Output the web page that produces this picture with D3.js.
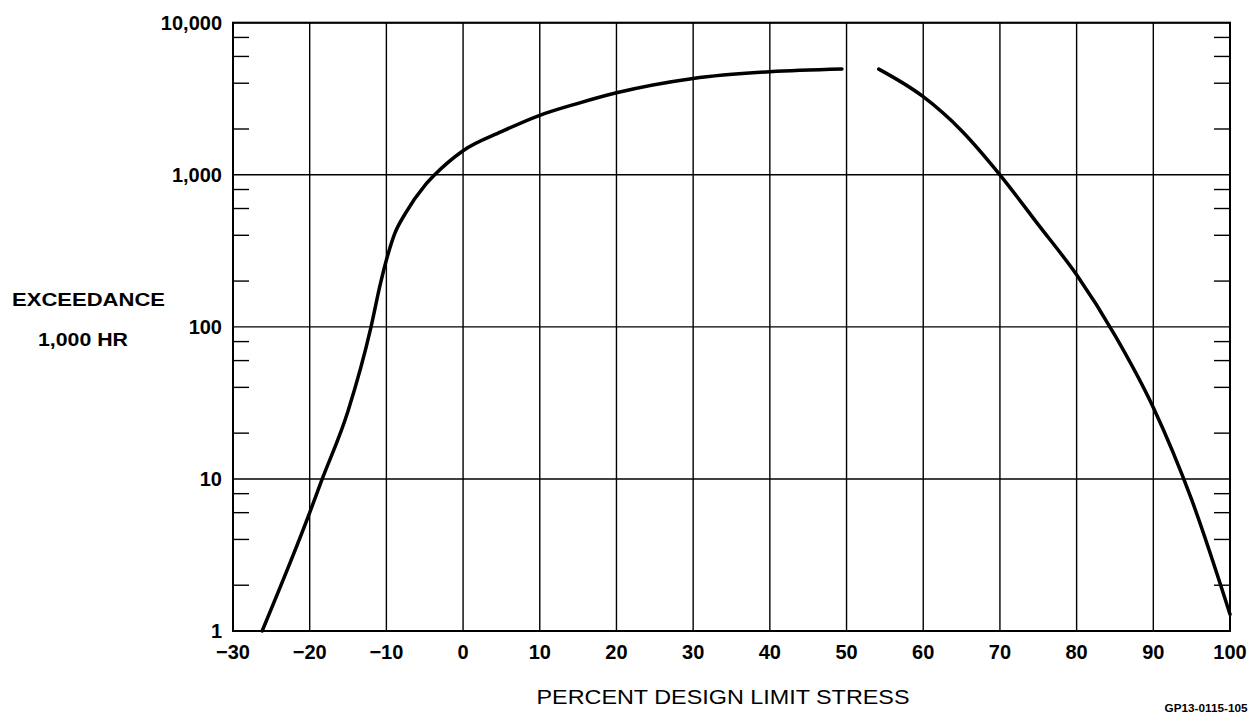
<!DOCTYPE html>
<html><head><meta charset="utf-8">
<script src="https://cdn.jsdelivr.net/npm/d3@7"></script>
<style>body{margin:0;background:#fff}svg{display:block}text{font-family:"Liberation Sans",Arial,sans-serif;fill:#000}</style>
</head><body><svg id="c" width="1252" height="713"></svg>
<script>
// Left branch of the exceedance curve
const leftX = [-26.2, -20, -18.5, -15, -12.0, -10.8, -10, -9, -7.5, -5, -3.7, 0, 5, 10, 15, 20, 30, 40, 49.4];
const leftY = [1, 6.0, 9.6, 28, 100, 190, 275, 400, 560, 850, 1000, 1440, 1920, 2460, 2950, 3460, 4300, 4760, 4960];
// Right branch
const rightX = [54.2, 60, 65, 70, 75, 80, 85, 90, 95, 100];
const rightY = [4950, 3260, 1950, 1000, 470, 220, 88, 29.5, 7.3, 1.29];
const xTicks = [-30, -20, -10, 0, 10, 20, 30, 40, 50, 60, 70, 80, 90, 100];
const yTicks = [1, 10, 100, 1000, 10000];
const yTickLabels = ["1", "10", "100", "1,000", "10,000"];
const minorMult = [2, 4, 6, 8];

const svg = d3.select("#c");
const L = 233, R = 1230, T = 22.7, B = 631;
const x = d3.scaleLinear().domain([-30, 100]).range([L, R]);
const y = d3.scaleLog().domain([1, 10000]).range([B, T]);

// grid
const g = svg.append("g");
g.selectAll(".vx").data(xTicks).join("line")
  .attr("x1", d => x(d)).attr("x2", d => x(d)).attr("y1", T).attr("y2", B)
  .attr("stroke", "#000").attr("stroke-width", 1.4);
g.selectAll(".hy").data(yTicks).join("line")
  .attr("x1", L).attr("x2", R).attr("y1", d => y(d)).attr("y2", d => y(d))
  .attr("stroke", "#000").attr("stroke-width", 1.4);

// minor ticks
const minors = [];
[1, 10, 100, 1000].forEach(dec => minorMult.forEach(m => minors.push(dec * m)));
g.selectAll(".ml").data(minors).join("line")
  .attr("x1", L).attr("x2", L + 16).attr("y1", d => y(d)).attr("y2", d => y(d))
  .attr("stroke", "#000").attr("stroke-width", 1.4);
g.selectAll(".mr").data(minors).join("line")
  .attr("x1", R - 16).attr("x2", R).attr("y1", d => y(d)).attr("y2", d => y(d))
  .attr("stroke", "#000").attr("stroke-width", 1.4);

// frame
svg.append("rect").attr("x", L).attr("y", T).attr("width", R - L).attr("height", B - T)
  .attr("fill", "none").attr("stroke", "#000").attr("stroke-width", 2);

// tick labels
svg.selectAll(".xl").data(xTicks).join("text")
  .attr("x", d => x(d)).attr("y", 652).attr("dy", "0.35em")
  .attr("text-anchor", "middle").attr("font-size", 20).attr("font-weight", "bold")
  .text(d => d < 0 ? "\u2212" + Math.abs(d) : d);
svg.selectAll(".yl").data(yTicks).join("text")
  .attr("x", 222).attr("y", d => y(d)).attr("dy", "0.35em")
  .attr("text-anchor", "end").attr("font-size", 20).attr("font-weight", "bold")
  .text((d, i) => yTickLabels[i]);

// curves
const line = d3.line().x(d => x(d[0])).y(d => y(d[1])).curve(d3.curveMonotoneX);
svg.append("path").datum(leftX.map((v, i) => [v, leftY[i]]))
  .attr("d", line).attr("fill", "none").attr("stroke", "#000").attr("stroke-width", 3.5).attr("stroke-linecap", "round");
svg.append("path").datum(rightX.map((v, i) => [v, rightY[i]]))
  .attr("d", line).attr("fill", "none").attr("stroke", "#000").attr("stroke-width", 3.5).attr("stroke-linecap", "round");

// axis titles
svg.append("text").attr("x", 88.5).attr("y", 299).attr("dy", "0.35em").attr("text-anchor", "middle")
  .attr("font-size", 19).attr("font-weight", "bold").attr("textLength", 153).attr("lengthAdjust", "spacingAndGlyphs")
  .text("EXCEEDANCE");
svg.append("text").attr("x", 83).attr("y", 339).attr("dy", "0.35em").attr("text-anchor", "middle")
  .attr("font-size", 19).attr("font-weight", "bold").attr("textLength", 90).attr("lengthAdjust", "spacingAndGlyphs")
  .text("1,000 HR");
svg.append("text").attr("x", 723).attr("y", 697).attr("dy", "0.35em").attr("text-anchor", "middle")
  .attr("font-size", 20).attr("textLength", 373).attr("lengthAdjust", "spacingAndGlyphs")
  .text("PERCENT DESIGN LIMIT STRESS");
svg.append("text").attr("x", 1206).attr("y", 708).attr("dy", "0.35em").attr("text-anchor", "middle")
  .attr("font-size", 11).attr("font-weight", "bold").attr("textLength", 83).attr("lengthAdjust", "spacingAndGlyphs")
  .text("GP13-0115-105");
</script></body></html>
